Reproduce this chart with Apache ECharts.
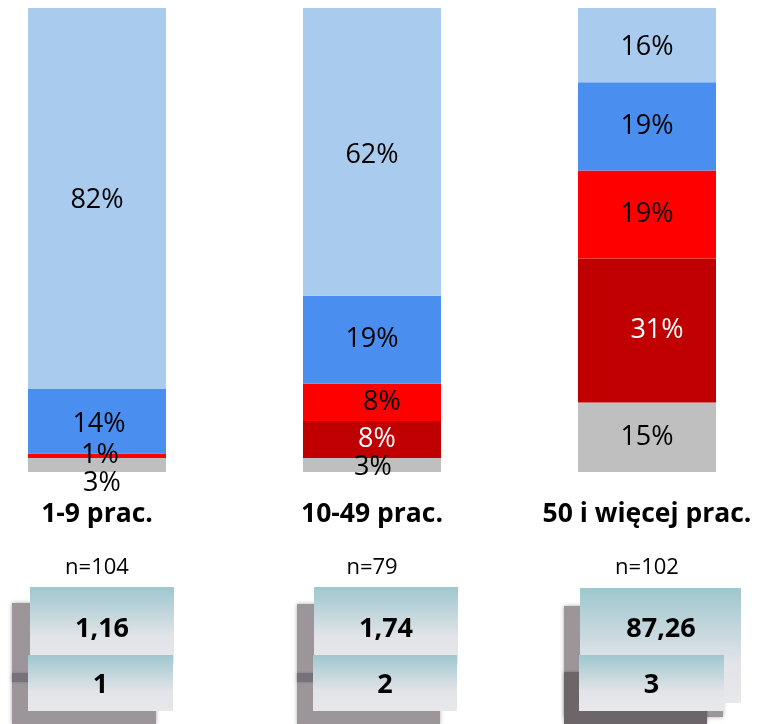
<!DOCTYPE html>
<html>
<head>
<meta charset="utf-8">
<script src="https://cdn.jsdelivr.net/npm/echarts@6/dist/echarts.min.js"></script>
<style>
html,body{margin:0;padding:0;background:#fff;}
#chart{width:767px;height:724px;}
</style>
</head>
<body>
<div id="chart"></div>
<script>
// ---- data ----
var categories = ['1-9 prac.', '10-49 prac.', '50 i więcej prac.'];
var sampleSizes = ['n=104', 'n=79', 'n=102'];
var grayVals     = [3, 3, 15];
var darkRedVals  = [0, 8, 31];
var redVals      = [1, 8, 19];
var blueVals     = [14, 19, 19];
var lightVals    = [82, 62, 16];
var boxTopValues = ['1,16', '1,74', '87,26'];
var boxBottomValues = ['1', '2', '3'];

var FONT = '"Open Sans", "Liberation Sans", sans-serif';

function mkSeries(name, vals, color, labelColor, offsets) {
  return {
    name: name,
    type: 'bar',
    stack: 'all',
    barWidth: 138,
    itemStyle: { color: color },
    label: {
      show: true,
      position: 'inside',
      color: labelColor,
      fontFamily: FONT,
      fontSize: 27,
      formatter: function (p) { return p.value ? p.value + '%' : ''; }
    },
    data: vals.map(function (v, i) {
      var d = { value: v };
      if (offsets && offsets[i]) d.label = { offset: offsets[i] };
      return d;
    })
  };
}

var series = [
  mkSeries('gray', grayVals, '#BFBFBF', '#000', [[5, 18], [1, 2], null]),
  mkSeries('darkred', darkRedVals, '#C00000', '#fff', [null, [5, 0], [10, 0]]),
  mkSeries('red', redVals, '#FF0000', '#000', [[3, 0], [10, 0], null]),
  mkSeries('blue', blueVals, '#4A8EF0', '#000', [[2, 3], null, null]),
  mkSeries('light', lightVals, '#A9CBEE', '#000', [[0, 2], [0, 3], [0, 2]])
];

// box layout (decoration)
var boxLayout = [
  { sh: [12, 603, 144, 121], band: [12, 673, 144, 9], up: [30, 587, 144, 77], lo: [28, 655, 145, 56], tx: 102, lx: 100.5 },
  { sh: [297, 604, 143, 120], band: [297, 673, 143, 9], up: [314, 587, 144, 77], lo: [313, 655, 144, 56], tx: 386, lx: 385 },
  { sh: [564, 606, 159, 111], dark: [564, 672, 143, 52], up: [580, 588, 161, 115], lo: [579, 655, 145, 56], tx: 661, lx: 651.5 }
];

function grad() {
  return new echarts.graphic.LinearGradient(0, 0, 0, 1, [
    { offset: 0, color: '#9EC7CE' },
    { offset: 0.65, color: '#E2E4E8' },
    { offset: 1, color: '#E8E8EC' }
  ]);
}
function rect(r, fill, extra) {
  var o = { type: 'rect', shape: { x: r[0], y: r[1], width: r[2], height: r[3] }, style: { fill: fill } };
  if (extra) for (var k in extra) o.style[k] = extra[k];
  return o;
}

var graphics = [];
boxLayout.forEach(function (b, i) {
  var children = [];
  children.push(rect(b.sh, '#9C969B', { shadowBlur: 4, shadowColor: 'rgba(120,114,120,0.6)' }));
  if (b.band) children.push(rect(b.band, '#77717A', { shadowBlur: 3, shadowColor: 'rgba(80,75,80,0.4)' }));
  if (b.dark) children.push(rect(b.dark, '#6C666B', { shadowBlur: 3, shadowColor: 'rgba(80,75,80,0.5)' }));
  children.push(rect(b.up, grad()));
  children.push(rect(b.lo, grad()));
  children.push({ type: 'text', x: b.tx, y: 629, style: { text: boxTopValues[i], font: 'bold 27px ' + FONT, fill: '#000', align: 'center', verticalAlign: 'middle' } });
  children.push({ type: 'text', x: b.lx, y: 685, style: { text: boxBottomValues[i], font: 'bold 27px ' + FONT, fill: '#000', align: 'center', verticalAlign: 'middle' } });
  graphics.push({ type: 'group', children: children });
});

var chart = echarts.init(document.getElementById('chart'), null, { renderer: 'canvas' });
chart.setOption({
  animation: false,
  backgroundColor: '#fff',
  grid: { left: -40.5, right: -17.5, top: 8, bottom: 252, containLabel: false, outerBoundsMode: 'none' },
  xAxis: {
    type: 'category',
    data: categories,
    axisLine: { show: false },
    axisTick: { show: false },
    axisLabel: {
      interval: 0,
      margin: 22,
      formatter: function (v, i) { return '{a|' + v + '}\n{b|' + sampleSizes[i] + '}'; },
      rich: {
        a: { fontFamily: FONT, fontWeight: 'bold', fontSize: 26.5, lineHeight: 40, color: '#000' },
        b: { fontFamily: FONT, fontSize: 22, lineHeight: 68, color: '#000' }
      }
    }
  },
  yAxis: { type: 'value', min: 0, max: 100, show: false, splitLine: { show: false } },
  series: series,
  graphic: graphics
});
</script>
</body>
</html>
